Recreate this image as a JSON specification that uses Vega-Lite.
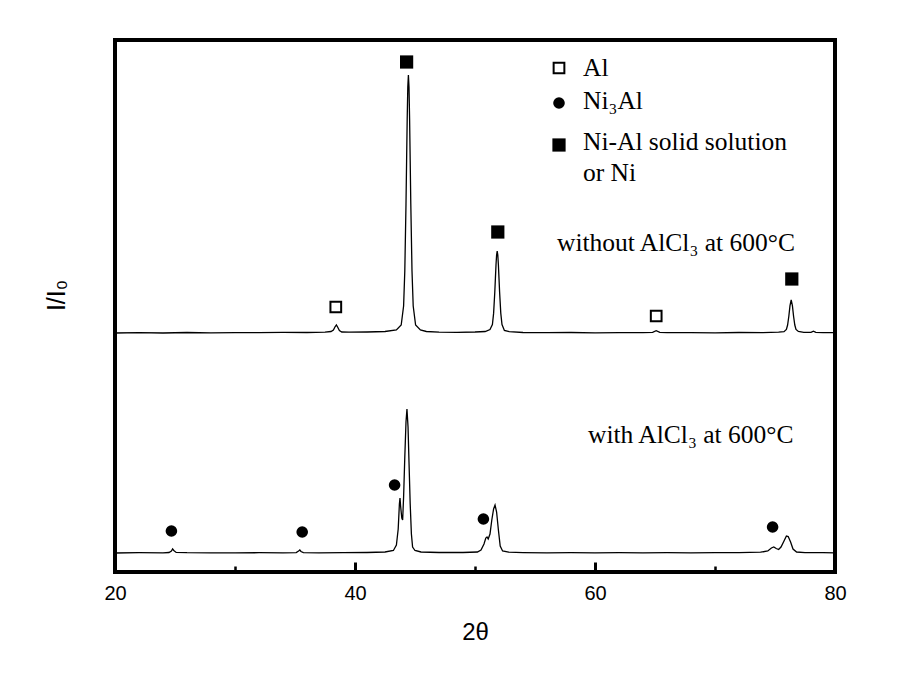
{
  "$schema": "https://vega.github.io/schema/vega-lite/v6.json",
  "width": 720,
  "height": 532,
  "autosize": "none",
  "padding": {"left": 115, "top": 40, "right": 72, "bottom": 117},
  "background": "white",
  "config": {"view": {"stroke": "black", "strokeWidth": 4}},
  "resolve": {"axis": {"x": "independent"}},
  "datasets": {
    "xrd": [
      {"t":20,"y":239,"s":"without"},{"t":22,"y":239.3,"s":"without"},{"t":24,"y":239,"s":"without"},{"t":26,"y":239.5,"s":"without"},{"t":28,"y":239.2,"s":"without"},{"t":30,"y":239.4,"s":"without"},{"t":32,"y":239.3,"s":"without"},{"t":34,"y":239.6,"s":"without"},{"t":36,"y":239.5,"s":"without"},{"t":37.5,"y":239.8,"s":"without"},{"t":38.0,"y":240.5,"s":"without"},{"t":38.2,"y":242,"s":"without"},{"t":38.35,"y":245.5,"s":"without"},{"t":38.45,"y":247,"s":"without"},{"t":38.55,"y":245,"s":"without"},{"t":38.7,"y":241.5,"s":"without"},{"t":38.9,"y":240,"s":"without"},{"t":39.5,"y":239.8,"s":"without"},{"t":41,"y":240,"s":"without"},{"t":42.5,"y":240.5,"s":"without"},{"t":43.45,"y":242,"s":"without"},{"t":43.85,"y":247,"s":"without"},{"t":44.05,"y":266,"s":"without"},{"t":44.15,"y":301,"s":"without"},{"t":44.25,"y":368,"s":"without"},{"t":44.3,"y":411,"s":"without"},{"t":44.35,"y":453,"s":"without"},{"t":44.4,"y":485,"s":"without"},{"t":44.45,"y":497,"s":"without"},{"t":44.5,"y":485,"s":"without"},{"t":44.55,"y":453,"s":"without"},{"t":44.6,"y":411,"s":"without"},{"t":44.65,"y":368,"s":"without"},{"t":44.75,"y":301,"s":"without"},{"t":44.85,"y":266,"s":"without"},{"t":45.05,"y":247,"s":"without"},{"t":45.45,"y":242,"s":"without"},{"t":45.95,"y":240.5,"s":"without"},{"t":47,"y":239.8,"s":"without"},{"t":48.5,"y":239.7,"s":"without"},{"t":50,"y":240,"s":"without"},{"t":50.85,"y":240.5,"s":"without"},{"t":51.25,"y":242.5,"s":"without"},{"t":51.45,"y":247.5,"s":"without"},{"t":51.55,"y":258.6,"s":"without"},{"t":51.65,"y":280,"s":"without"},{"t":51.7,"y":293.6,"s":"without"},{"t":51.75,"y":307,"s":"without"},{"t":51.8,"y":317,"s":"without"},{"t":51.85,"y":321,"s":"without"},{"t":51.9,"y":317,"s":"without"},{"t":51.95,"y":307,"s":"without"},{"t":52.0,"y":293.6,"s":"without"},{"t":52.05,"y":280,"s":"without"},{"t":52.15,"y":258.6,"s":"without"},{"t":52.25,"y":247.5,"s":"without"},{"t":52.45,"y":241.5,"s":"without"},{"t":52.85,"y":240.3,"s":"without"},{"t":54,"y":239.5,"s":"without"},{"t":56,"y":239.3,"s":"without"},{"t":58,"y":239.5,"s":"without"},{"t":60,"y":239.2,"s":"without"},{"t":62,"y":239.4,"s":"without"},{"t":64,"y":239.4,"s":"without"},{"t":64.8,"y":239.6,"s":"without"},{"t":65.1,"y":241.3,"s":"without"},{"t":65.4,"y":239.6,"s":"without"},{"t":66,"y":239.3,"s":"without"},{"t":68,"y":239.4,"s":"without"},{"t":70,"y":239.2,"s":"without"},{"t":72,"y":239.5,"s":"without"},{"t":74,"y":239.4,"s":"without"},{"t":75.3,"y":239.8,"s":"without"},{"t":75.75,"y":240.3,"s":"without"},{"t":75.95,"y":242.5,"s":"without"},{"t":76.05,"y":247,"s":"without"},{"t":76.15,"y":255.5,"s":"without"},{"t":76.25,"y":266.4,"s":"without"},{"t":76.35,"y":272,"s":"without"},{"t":76.45,"y":266.4,"s":"without"},{"t":76.55,"y":255.5,"s":"without"},{"t":76.65,"y":247,"s":"without"},{"t":76.75,"y":242.5,"s":"without"},{"t":76.95,"y":240.5,"s":"without"},{"t":77.4,"y":239.6,"s":"without"},{"t":78.0,"y":239.6,"s":"without"},{"t":78.2,"y":240.8,"s":"without"},{"t":78.4,"y":239.6,"s":"without"},{"t":79,"y":239.4,"s":"without"},{"t":80,"y":239.3,"s":"without"},
      {"t":20,"y":19,"s":"with"},{"t":22,"y":19.3,"s":"with"},{"t":24,"y":19.2,"s":"with"},{"t":24.5,"y":19.5,"s":"with"},{"t":24.7,"y":21,"s":"with"},{"t":24.8,"y":23,"s":"with"},{"t":24.9,"y":21.5,"s":"with"},{"t":25.1,"y":19.6,"s":"with"},{"t":26,"y":19.3,"s":"with"},{"t":28,"y":19.2,"s":"with"},{"t":30,"y":19.1,"s":"with"},{"t":32,"y":19.3,"s":"with"},{"t":34,"y":19.2,"s":"with"},{"t":35.1,"y":19.4,"s":"with"},{"t":35.3,"y":21,"s":"with"},{"t":35.4,"y":22,"s":"with"},{"t":35.5,"y":20.5,"s":"with"},{"t":35.7,"y":19.4,"s":"with"},{"t":37,"y":19.2,"s":"with"},{"t":39,"y":19.3,"s":"with"},{"t":41,"y":19.5,"s":"with"},{"t":42.5,"y":20,"s":"with"},{"t":43.2,"y":21.5,"s":"with"},{"t":43.45,"y":27,"s":"with"},{"t":43.6,"y":43,"s":"with"},{"t":43.7,"y":68,"s":"with"},{"t":43.75,"y":74,"s":"with"},{"t":43.8,"y":66,"s":"with"},{"t":43.9,"y":54,"s":"with"},{"t":43.97,"y":52,"s":"with"},{"t":44.05,"y":75,"s":"with"},{"t":44.15,"y":115,"s":"with"},{"t":44.25,"y":150,"s":"with"},{"t":44.33,"y":163,"s":"with"},{"t":44.42,"y":145,"s":"with"},{"t":44.5,"y":110,"s":"with"},{"t":44.6,"y":68,"s":"with"},{"t":44.7,"y":38,"s":"with"},{"t":44.8,"y":25,"s":"with"},{"t":45.0,"y":21.5,"s":"with"},{"t":45.5,"y":20,"s":"with"},{"t":47,"y":19.5,"s":"with"},{"t":49,"y":19.5,"s":"with"},{"t":50.2,"y":20,"s":"with"},{"t":50.5,"y":22,"s":"with"},{"t":50.75,"y":28,"s":"with"},{"t":50.9,"y":34,"s":"with"},{"t":51.0,"y":35,"s":"with"},{"t":51.1,"y":33,"s":"with"},{"t":51.25,"y":38,"s":"with"},{"t":51.4,"y":52,"s":"with"},{"t":51.55,"y":63,"s":"with"},{"t":51.67,"y":67,"s":"with"},{"t":51.8,"y":60,"s":"with"},{"t":51.95,"y":42,"s":"with"},{"t":52.1,"y":26,"s":"with"},{"t":52.3,"y":21,"s":"with"},{"t":52.8,"y":19.8,"s":"with"},{"t":54,"y":19.4,"s":"with"},{"t":56,"y":19.2,"s":"with"},{"t":58,"y":19.3,"s":"with"},{"t":60,"y":19.2,"s":"with"},{"t":62,"y":19.3,"s":"with"},{"t":64,"y":19.2,"s":"with"},{"t":66,"y":19.3,"s":"with"},{"t":68,"y":19.2,"s":"with"},{"t":70,"y":19.3,"s":"with"},{"t":72,"y":19.4,"s":"with"},{"t":73.8,"y":19.8,"s":"with"},{"t":74.4,"y":21,"s":"with"},{"t":74.7,"y":24,"s":"with"},{"t":74.9,"y":25,"s":"with"},{"t":75.1,"y":23.5,"s":"with"},{"t":75.3,"y":22.5,"s":"with"},{"t":75.5,"y":25,"s":"with"},{"t":75.75,"y":31,"s":"with"},{"t":75.95,"y":36,"s":"with"},{"t":76.1,"y":35.5,"s":"with"},{"t":76.3,"y":30,"s":"with"},{"t":76.5,"y":23,"s":"with"},{"t":76.8,"y":20,"s":"with"},{"t":77.5,"y":19.4,"s":"with"},{"t":79,"y":19.3,"s":"with"},{"t":80,"y":19.2,"s":"with"}
    ],
    "markers": [
      {"t":38.4,"y":265,"kind":"Al"},{"t":65.1,"y":256,"kind":"Al"},
      {"t":44.3,"y":510,"kind":"NiAl"},{"t":51.9,"y":340,"kind":"NiAl"},{"t":76.4,"y":293,"kind":"NiAl"},
      {"t":24.7,"y":41,"kind":"Ni3Al"},{"t":35.6,"y":40,"kind":"Ni3Al"},{"t":43.3,"y":87,"kind":"Ni3Al"},{"t":50.7,"y":53,"kind":"Ni3Al"},{"t":74.8,"y":45,"kind":"Ni3Al"},
      {"t":57.0,"y":504,"kind":"Al"},{"t":57.0,"y":469,"kind":"Ni3Al"},{"t":57.0,"y":427,"kind":"NiAl"}
    ],
    "labels": [
      {"t":59.0,"y":496,"text":"Al"},
      {"t":59.0,"y":463,"text":"Ni₃Al"},
      {"t":59.0,"y":422,"text":"Ni-Al solid solution"},
      {"t":59.0,"y":391,"text":"or Ni"},
      {"t":56.83,"y":321,"text":"without AlCl₃ at 600°C"},
      {"t":59.42,"y":129,"text":"with AlCl₃ at 600°C"}
    ]
  },
  "layer": [
    {
      "data": {"name": "xrd"},
      "mark": {"type": "line", "color": "black", "strokeWidth": 1.3},
      "encoding": {
        "x": {
          "field": "t", "type": "quantitative",
          "scale": {"domain": [20, 80], "nice": false, "zero": false},
          "axis": {
            "orient": "bottom",
            "values": [20, 40, 60, 80],
            "tickSize": -10,
            "tickWidth": 3,
            "tickColor": "black",
            "domain": false,
            "grid": false,
            "labelFont": "Liberation Sans",
            "labelFontSize": 20,
            "labelColor": "black",
            "labelPadding": 21,
            "labelFlush": false,
            "title": "2θ",
            "titleFont": "Liberation Sans",
            "titleFontSize": 24,
            "titleFontWeight": "normal",
            "titleColor": "black",
            "titlePadding": 17
          }
        },
        "y": {
          "field": "y", "type": "quantitative",
          "scale": {"domain": [0, 532], "nice": false, "zero": false},
          "axis": {
            "domain": false, "ticks": false, "labels": false, "grid": false,
            "title": "I/I₀",
            "titleFont": "Liberation Sans",
            "titleFontSize": 25,
            "titleFontWeight": "normal",
            "titleColor": "black",
            "titlePadding": 46,
            "titleY": 255
          }
        },
        "detail": {"field": "s"}
      }
    },
    {
      "data": {"name": "markers"},
      "transform": [{"filter": "datum.kind === 'Al'"}],
      "mark": {"type": "square", "filled": false, "color": "black", "strokeWidth": 2, "size": 115, "opacity": 1},
      "encoding": {
        "x": {
          "field": "t", "type": "quantitative",
          "axis": {
            "orient": "bottom",
            "values": [30, 50, 70],
            "tickSize": -6,
            "tickWidth": 2.5,
            "tickColor": "black",
            "labels": false,
            "domain": false,
            "grid": false,
            "title": null
          }
        },
        "y": {"field": "y", "type": "quantitative"}
      }
    },
    {
      "data": {"name": "markers"},
      "transform": [{"filter": "datum.kind === 'NiAl'"}],
      "mark": {"type": "square", "filled": true, "color": "black", "size": 175, "opacity": 1},
      "encoding": {
        "x": {"field": "t", "type": "quantitative", "axis": null},
        "y": {"field": "y", "type": "quantitative"}
      }
    },
    {
      "data": {"name": "markers"},
      "transform": [{"filter": "datum.kind === 'Ni3Al'"}],
      "mark": {"type": "circle", "color": "black", "size": 135, "opacity": 1},
      "encoding": {
        "x": {"field": "t", "type": "quantitative", "axis": null},
        "y": {"field": "y", "type": "quantitative"}
      }
    },
    {
      "data": {"name": "labels"},
      "mark": {"type": "text", "align": "left", "baseline": "alphabetic", "font": "Liberation Serif", "fontSize": 25.5, "color": "black"},
      "encoding": {
        "x": {"field": "t", "type": "quantitative", "axis": null},
        "y": {"field": "y", "type": "quantitative"},
        "text": {"field": "text"}
      }
    }
  ]
}
